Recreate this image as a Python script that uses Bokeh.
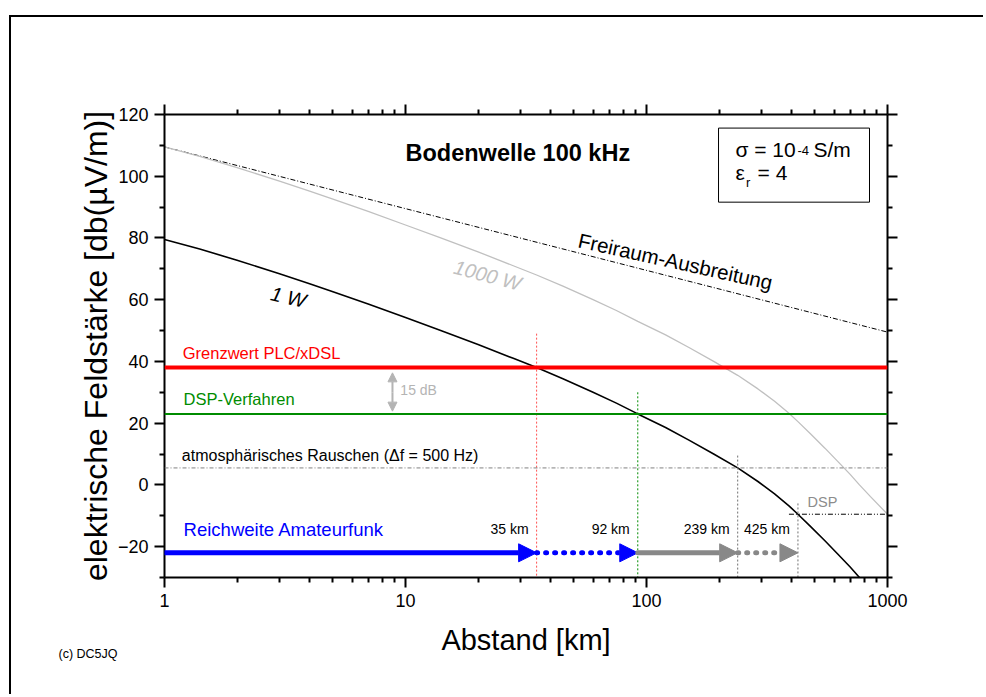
import math
from bokeh.plotting import figure
from bokeh.models import (FixedTicker, LogAxis, LinearAxis, Range1d, Span, Label, Arrow,
                          NormalHead, BoxAnnotation, CustomJSTickFormatter, Title)
from bokeh.embed import file_html
from bokeh.resources import INLINE

# ---------------- data ----------------
dist_km = [1, 1.4, 2, 3, 4, 5, 7, 10, 14, 20, 28, 35, 45, 60, 75, 92, 120, 150, 190,
           239, 290, 340, 390, 425, 480, 550, 620, 700, 765, 850, 1000]
field_1w = [79.5, 76.4, 72.8, 68.4, 65.2, 62.6, 58.6, 54.2, 50.0, 45.5, 41.0, 38.0, 34.4,
            30.0, 26.5, 23.0, 18.6, 14.5, 10.0, 5.5, 1.1, -2.9, -6.8, -9.5, -13.5, -18.1,
            -22.3, -26.6, -30.0, -33.8, -39.5]
field_1000w = [109.5, 106.4, 102.8, 98.4, 95.2, 92.6, 88.6, 84.2, 80.0, 75.5, 71.0, 68.0,
               64.4, 60.0, 56.5, 53.0, 48.6, 44.5, 40.0, 35.5, 31.1, 27.1, 23.2, 20.5,
               16.5, 11.9, 7.7, 3.4, 0.0, -3.8, -9.5]
free_dist = [1, 1000]
free_field = [109.5, 49.5]

limit_plc = 38.0      # Grenzwert PLC/xDSL
limit_dsp = 23.0      # DSP-Verfahren
noise_level = 5.5     # atmosphärisches Rauschen
noise_dsp = -9.5      # DSP
dsp_line_start = 390

range_km = [35, 92, 239, 425]
range_labels = ["35 km", "92 km", "239 km", "425 km"]
marker_tops = [49, 30, 9.5, -6]
arrow_level = -22

x_ticks = [1, 10, 100, 1000]
x_minor = [2, 3, 4, 5, 6, 7, 8, 9, 20, 30, 40, 50, 60, 70, 80, 90,
           200, 300, 400, 500, 600, 700, 800, 900]
y_ticks = [-20, 0, 20, 40, 60, 80, 100, 120]
y_minor = [-30, -10, 10, 30, 50, 70, 90, 110]

FONT = "Liberation Sans"

p = figure(width=974, height=679, x_axis_type="log",
           x_range=Range1d(1, 1000), y_range=Range1d(-30, 120),
           output_backend="svg", toolbar_location=None,
           min_border_left=153, min_border_right=98, min_border_top=97, min_border_bottom=119)
p.margin = (15, 0, 0, 9)
p.styles = {"border-top": "2px solid black", "border-left": "2px solid black"}
p.outline_line_color = None
p.grid.visible = False
p.background_fill_color = "white"
p.border_fill_color = "white"

xt = FixedTicker(ticks=x_ticks, minor_ticks=x_minor)
yt = FixedTicker(ticks=y_ticks, minor_ticks=y_minor)

bottom_ax = p.below[0]
left_ax = p.left[0]
bottom_ax.ticker = xt
left_ax.ticker = yt
bottom_ax.formatter = CustomJSTickFormatter(code="return String(Math.round(tick))")
bottom_ax.axis_label = "Abstand [km]"
left_ax.axis_label = "elektrische Feldstärke [db(µV/m)]"

top_ax = LogAxis(ticker=xt, formatter=CustomJSTickFormatter(code="return ''"))
right_ax = LinearAxis(ticker=yt, formatter=CustomJSTickFormatter(code="return ''"))
p.add_layout(top_ax, "above")
p.add_layout(right_ax, "right")

for ax in [bottom_ax, left_ax, top_ax, right_ax]:
    ax.axis_line_width = 2
    ax.axis_line_color = "black"
    ax.major_tick_out = 10
    ax.major_tick_in = 0
    ax.minor_tick_out = 5
    ax.minor_tick_in = 0
    ax.major_tick_line_width = 2
    ax.minor_tick_line_width = 2
    ax.major_tick_line_color = "black"
    ax.minor_tick_line_color = "black"
    ax.major_label_text_font = FONT
    ax.major_label_text_font_size = "18px"
    ax.major_label_text_color = "black"
    ax.axis_label_text_font = FONT
    ax.axis_label_text_font_style = "normal"
    ax.axis_label_text_color = "black"
bottom_ax.axis_label_text_font_size = "29px"
left_ax.axis_label_text_font_size = "32px"
bottom_ax.major_label_standoff = 6
left_ax.major_label_standoff = 6
bottom_ax.axis_label_standoff = 14
left_ax.axis_label_standoff = 1
top_ax.major_label_text_font_size = "1px"
right_ax.major_label_text_font_size = "1px"

# copyright note in the bottom border
p.add_layout(Title(text="(c) DC5JQ", align="left", offset=-106, standoff=-23,
                   vertical_align="top",
                   text_font=FONT, text_font_size="12.5px", text_font_style="normal",
                   text_color="black"), "below")

# ---------------- horizontal levels ----------------
p.add_layout(Span(location=limit_plc, dimension="width", line_color="#ff0000", line_width=4))
p.add_layout(Span(location=limit_dsp, dimension="width", line_color="#008c00", line_width=2))
p.add_layout(Span(location=noise_level, dimension="width", line_color="#808080", line_width=1,
                  line_dash="4 2 1 2"))

# curves
p.line(free_dist, free_field, line_color="black", line_width=1, line_dash="5 2 1 2")
p.line(dist_km, field_1000w, line_color="#c0c0c0", line_width=1.3)
p.line(dist_km, field_1w, line_color="black", line_width=1.6)

# DSP dash-dot line
p.line([dsp_line_start, 1000], [noise_dsp, noise_dsp], line_color="black", line_width=1,
       line_dash="5 2 1 2 1 2")

# vertical markers
marker_colors = ["#ff5050", "#008c00", "#707070", "#707070"]
for xk, top, col in zip(range_km, marker_tops, marker_colors):
    p.segment(x0=[xk], y0=[top], x1=[xk], y1=[-30], line_color=col, line_width=1, line_dash="2 2")

# range arrows
starts = [1] + range_km[:-1]
arrow_cols = ["#0000ff", "#0000ff", "#888888", "#888888"]
arrow_dash = ["solid", "1 8", "solid", "1 8"]
for s, e, col, dash in zip(starts, range_km, arrow_cols, arrow_dash):
    p.add_layout(Arrow(x_start=s, y_start=arrow_level, x_end=e, y_end=arrow_level,
                       line_color=col, line_width=5, line_dash=dash, line_cap="round",
                       end=NormalHead(size=18, fill_color=col, line_color=col)))
for e, lab in zip(range_km, range_labels):
    p.add_layout(Label(x=e, y=-16.9, text=lab, text_align="right", x_offset=-8,
                       text_font=FONT, text_font_size="14px", text_color="black"))

# 15 dB arrow
p.add_layout(Arrow(x_start=8.83, y_start=30, x_end=8.83, y_end=23.9, line_color="#b4b4b4",
                   line_width=2, end=NormalHead(size=9, fill_color="#b4b4b4", line_color="#b4b4b4")))
p.add_layout(Arrow(x_start=8.83, y_start=30, x_end=8.83, y_end=36.3, line_color="#b4b4b4",
                   line_width=2, end=NormalHead(size=9, fill_color="#b4b4b4", line_color="#b4b4b4")))
p.add_layout(Label(x=9.52, y=28.0, text="15 dB", text_font=FONT, text_font_size="14px",
                   text_color="#b4b4b4"))

# level texts
p.add_layout(Label(x=1.19, y=39.8, text="Grenzwert PLC/xDSL", text_font=FONT,
                   text_font_size="16.5px", text_color="#ff0000"))
p.add_layout(Label(x=1.2, y=25.0, text="DSP-Verfahren", text_font=FONT,
                   text_font_size="16.5px", text_color="#008c00"))
p.add_layout(Label(x=1.18, y=6.9, text="atmosphärisches Rauschen (Δf = 500 Hz)", text_font=FONT,
                   text_font_size="16px", text_color="black"))
p.add_layout(Label(x=1.2, y=-18.0, text="Reichweite Amateurfunk", text_font=FONT,
                   text_font_size="18.5px", text_color="#0000ff"))
p.add_layout(Label(x=466, y=-8.0, text="DSP", text_font=FONT, text_font_size="14.5px",
                   text_color="#8c8c8c"))

# title
p.add_layout(Label(x=10, y=103.2, text="Bodenwelle 100 kHz", text_font=FONT,
                   text_font_size="23.5px", text_font_style="bold", text_color="black"))

# parameter box
p.add_layout(BoxAnnotation(left=199, right=842, bottom=91.6, top=115.6, fill_alpha=0,
                           line_color="black", line_width=1, line_alpha=1))
p.add_layout(Label(x=234, y=104.9, text="σ = 10", text_font=FONT, text_font_size="21px",
                   text_color="black"))
p.add_layout(Label(x=423, y=106.8, text="-4", text_font=FONT, text_font_size="13px",
                   text_color="black"))
p.add_layout(Label(x=493, y=104.9, text="S/m", text_font=FONT, text_font_size="21px",
                   text_color="black"))
p.add_layout(Label(x=234, y=97.6, text="ε", text_font=FONT, text_font_size="21px",
                   text_color="black"))
p.add_layout(Label(x=259, y=95.5, text="r", text_font=FONT, text_font_size="13px",
                   text_color="black"))
p.add_layout(Label(x=289, y=97.6, text="= 4", text_font=FONT, text_font_size="21px",
                   text_color="black"))

# rotated curve labels
p.add_layout(Label(x=131.9, y=72.45, text="Freiraum-Ausbreitung", text_font=FONT,
                   text_font_size="20.5px", text_align="center", text_baseline="middle",
                   text_color="black", angle=math.radians(-12.5)))
p.add_layout(Label(x=21.9, y=67.9, text="1000 W", text_font=FONT, text_font_size="20px",
                   text_font_style="italic", text_color="#c0c0c0", text_align="center",
                   text_baseline="middle", angle=math.radians(-15)))
p.add_layout(Label(x=3.27, y=60.8, text="1 W", text_font=FONT, text_font_size="20px",
                   text_font_style="italic", text_color="black", text_align="center",
                   text_baseline="middle", angle=math.radians(-13)))

open("out.html", "w").write(file_html(p, INLINE))
